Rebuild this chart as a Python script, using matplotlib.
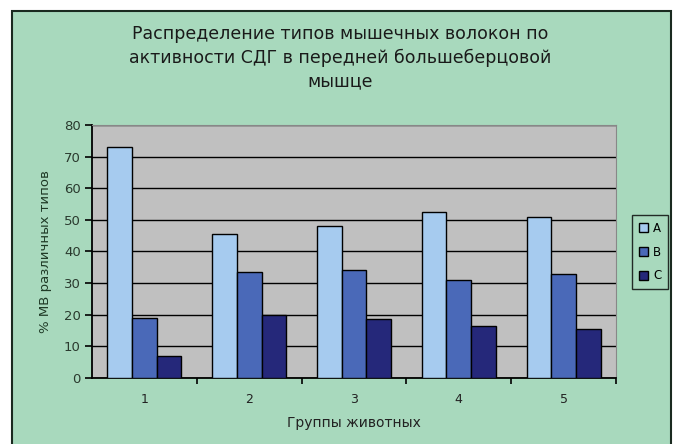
import matplotlib
matplotlib.use("Agg")
import matplotlib.pyplot as plt
from matplotlib.patches import Rectangle
from matplotlib.ticker import MultipleLocator, FixedLocator, NullFormatter
import numpy as np

groups = ["1", "2", "3", "4", "5"]
series_names = ["A", "B", "C"]
val_a = [73, 45.5, 48, 52.5, 51]
val_b = [19, 33.5, 34, 31, 33]
val_c = [7, 20, 18.5, 16.5, 15.5]

title_text = ("Распределение типов мышечных волокон по\n"
              "активности СДГ в передней большеберцовой\n"
              "мышце")
xlabel_text = "Группы животных"
ylabel_text = "% МВ различных типов"

green = "#a8d9bd"
colors = ["#a6cbef", "#4a69b8", "#25287a"]

plt.rcParams['font.family'] = ['DejaVu Sans']

fig = plt.figure(figsize=(6.73, 4.44), dpi=100)
fig.patch.set_facecolor("white")

# green frame of the chart area
frame = Rectangle((12/673, -0.05), (671-12)/673, 0.05 + 1 - 11/444,
                  transform=fig.transFigure, facecolor=green,
                  edgecolor="#1a2a20", linewidth=1.5, zorder=-10)
fig.patches.append(frame)

ax = fig.add_axes([92/673, 1-378/444, (616-92)/673, (378-125)/444])
ax.set_zorder(1)
ax.set_facecolor("#c0c0c0")

x = np.arange(len(groups)) + 0.5
w = 0.235
data = [val_a, val_b, val_c]
for i in range(3):
    ax.bar(x + (i-1)*w, data[i], width=w, color=colors[i], edgecolor="black",
           linewidth=1, label=series_names[i], zorder=3)

ax.set_xlim(0, 5)
ax.set_ylim(0, 80)
ax.yaxis.set_major_locator(MultipleLocator(10))
ax.yaxis.grid(True, color="black", linewidth=1, zorder=1)
ax.set_axisbelow(True)

# ticks between groups, labels at group centers
ax.xaxis.set_major_locator(FixedLocator([1, 2, 3, 4, 5]))
ax.xaxis.set_major_formatter(NullFormatter())
ax.xaxis.set_minor_locator(FixedLocator(x))
ax.set_xticklabels(groups, minor=True)
ax.tick_params(axis="x", which="major", direction="out", length=4, width=1.2, color="black")
ax.tick_params(axis="x", which="minor", length=0, pad=11, labelsize=9, labelcolor="#222222")
ax.tick_params(axis="y", direction="out", length=5, width=1.2, labelsize=9.5,
               labelcolor="#2a3a2e", pad=3)

for s in ["top", "right"]:
    ax.spines[s].set_color("#888888")
    ax.spines[s].set_linewidth(0.8)
ax.spines["left"].set_linewidth(1.3)
ax.spines["bottom"].set_linewidth(1.3)

ax.set_xlabel(xlabel_text, fontsize=10, color="#222222", labelpad=7)
ax.set_ylabel(ylabel_text, fontsize=9.5, color="#1f3a26", labelpad=9)

fig.text(0.505, 1-58/444, title_text, ha="center", va="center",
         fontsize=12.5, linespacing=1.4, color="#1a1a1a")

leg = ax.legend(loc="center", bbox_to_anchor=(650/673, 1-252/444),
                bbox_transform=fig.transFigure, fontsize=8.5,
                handlelength=0.8, handleheight=0.8, handletextpad=0.4,
                borderpad=0.6, labelspacing=0.9, fancybox=False,
                frameon=True, borderaxespad=0)
leg.get_frame().set_edgecolor("black")
leg.get_frame().set_facecolor("none")
leg.get_frame().set_linewidth(1)

fig.savefig("out.png", dpi=100, facecolor=fig.get_facecolor())
